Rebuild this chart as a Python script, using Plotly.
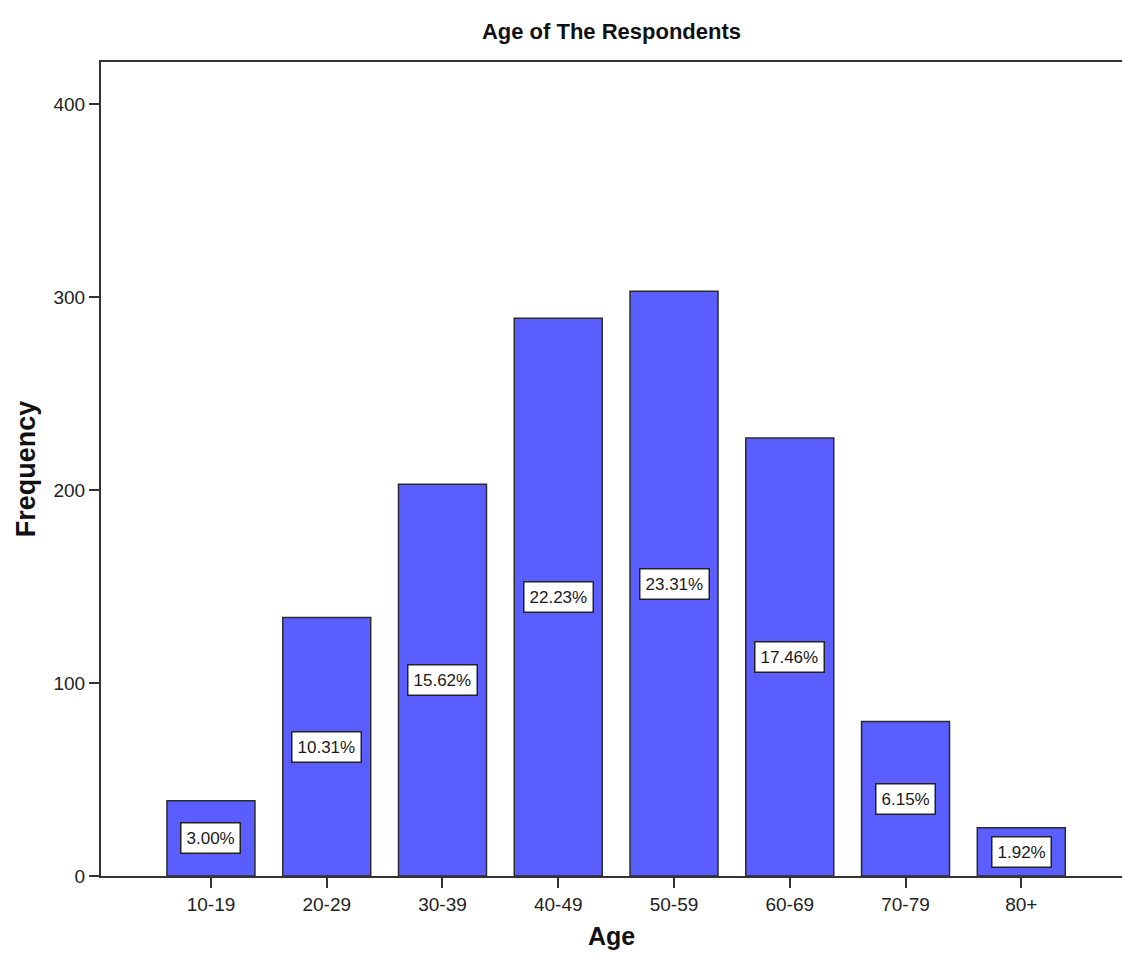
import plotly.graph_objects as go

categories = ["10-19", "20-29", "30-39", "40-49", "50-59", "60-69", "70-79", "80+"]
frequency = [39, 134, 203, 289, 303, 227, 80, 25]
percent_labels = ["3.00%", "10.31%", "15.62%", "22.23%", "23.31%", "17.46%", "6.15%", "1.92%"]
y_ticks = [0, 100, 200, 300, 400]

FONT = "Liberation Sans, Arial, sans-serif"
AXIS_COLOR = "#333333"

fig = go.Figure()
fig.add_trace(go.Bar(
    x=categories,
    y=frequency,
    width=0.76,
    marker=dict(color="#5a5eff", line=dict(color="#2b2b2b", width=1.5)),
    hoverinfo="x+y",
))

for cat, val, lab in zip(categories, frequency, percent_labels):
    fig.add_annotation(
        x=cat, y=val / 2, text=lab, showarrow=False,
        font=dict(family=FONT, size=17, color="#1a1a1a"),
        bgcolor="white", bordercolor="#222222", borderwidth=1.5, borderpad=5,
    )

fig.update_layout(
    width=1122, height=958,
    margin=dict(l=101, r=0, t=62, b=82),
    paper_bgcolor="white", plot_bgcolor="white",
    showlegend=False,
    title=dict(text="<b>Age of The Respondents</b>", x=0.545, xanchor="center",
               y=1 - 31 / 958, yanchor="middle",
               font=dict(family=FONT, size=22, color="#111111")),
    font=dict(family=FONT, color="#222222"),
)

fig.update_xaxes(
    type="category", range=[-0.95, 7.87],
    showline=True, linecolor=AXIS_COLOR, linewidth=2, mirror=True,
    ticks="outside", ticklen=10, tickwidth=2, tickcolor=AXIS_COLOR,
    tickfont=dict(family=FONT, size=19, color="#222222"),
    showgrid=False, zeroline=False,
    title=dict(text="<b>Age</b>", font=dict(family=FONT, size=25, color="#111111"), standoff=14),
)
fig.update_yaxes(
    range=[0, 421.8], tickvals=y_ticks,
    showline=True, linecolor=AXIS_COLOR, linewidth=2,
    ticks="outside", ticklen=10, tickwidth=2, tickcolor=AXIS_COLOR,
    tickfont=dict(family=FONT, size=19, color="#222222"),
    showgrid=False, zeroline=False,
    title=dict(text="<b>Frequency</b>", font=dict(family=FONT, size=27, color="#111111"), standoff=10),
)

fig.write_html(
    "out.html",
    config={"displayModeBar": False},
    post_script="document.body.style.margin='0';document.body.style.overflow='hidden';",
)
